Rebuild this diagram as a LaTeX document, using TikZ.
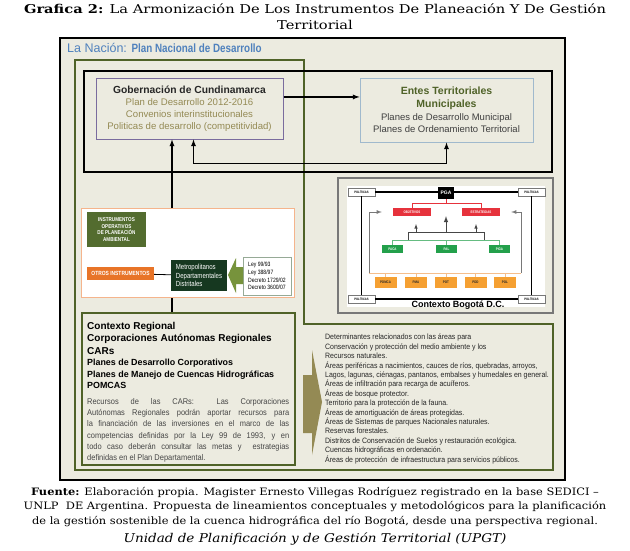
\documentclass[tikz,border=0pt]{standalone}
\usepackage{fontspec}
\setmainfont{Liberation Sans}
\newfontfamily\djserif{DejaVu Serif}[FakeStretch=1.12]
\newfontfamily\djtitle{DejaVu Serif}[FakeStretch=1.2]
\newfontfamily\narrowsans{Liberation Sans}[FakeStretch=0.82]
\newfontfamily\condsans{Liberation Sans}[FakeStretch=0.9]
\usetikzlibrary{shapes,arrows}
\parindent=0pt
\definecolor{fondo}{RGB}{236,235,224}
\definecolor{azulnacion}{RGB}{79,129,189}
\definecolor{oliva}{RGB}{79,98,40}
\definecolor{gobborde}{RGB}{122,108,158}
\definecolor{caqui}{RGB}{148,138,84}
\definecolor{entesborde}{RGB}{160,185,205}
\definecolor{oscuro}{RGB}{38,38,38}
\definecolor{grisent}{RGB}{64,64,64}
\definecolor{insverde}{RGB}{83,108,47}
\definecolor{otrosnar}{RGB}{232,116,40}
\definecolor{metroverde}{RGB}{22,56,32}
\definecolor{flechaverde}{RGB}{119,147,60}
\definecolor{leyborde}{RGB}{150,170,150}
\definecolor{panelborde}{RGB}{245,180,140}
\definecolor{rojobox}{RGB}{230,50,60}
\definecolor{verdebox}{RGB}{35,160,75}
\definecolor{naranjabox}{RGB}{245,160,50}
\definecolor{lineanaranja}{RGB}{245,190,140}
\definecolor{grisborde}{RGB}{120,120,120}
\definecolor{gristexto}{RGB}{70,70,70}
\newcommand{\fsz}[2]{\fontsize{#1}{#2}\selectfont}
\tikzset{
	titulo/.style    = {font=\djtitle\fsz{12.2}{16}, align=center, inner sep=0pt},
	pie/.style       = {font=\djserif\fsz{10.2}{14.5}, align=center, inner sep=0pt},
	marco/.style     = {draw=black, line width=2.4pt, fill=fondo},
	lineaverde/.style = {draw=oliva, line width=1.4pt},
	lineanegra/.style = {draw=black, line width=1.4pt},
	gobbox/.style    = {draw=gobborde, line width=1pt, fill=fondo, minimum width=187pt,
		minimum height=61pt, inner sep=0pt, align=center, text=caqui, font=\fsz{9.6}{12}},
	entesbox/.style  = {draw=entesborde, line width=1pt, fill=fondo, minimum width=173pt,
		minimum height=64pt, inner sep=0pt, align=center, text=grisent, font=\fsz{9.5}{12.7}},
	panelbox/.style  = {draw=panelborde, line width=0.8pt, fill=white, minimum width=213pt,
		minimum height=89pt, inner sep=0pt},
	insbox/.style    = {fill=insverde, text=white, minimum width=59pt, minimum height=35pt,
		inner sep=0pt, align=center, font=\narrowsans\bfseries\fsz{5.6}{6.8}},
	otrosbox/.style  = {fill=otrosnar, text=white, minimum width=67pt, minimum height=13pt,
		inner sep=0pt, font=\narrowsans\bfseries\fsz{6}{7}},
	metrobox/.style  = {fill=metroverde, text=white, minimum width=56pt, minimum height=31pt,
		inner sep=0pt, align=left, font=\narrowsans\fsz{7.4}{8.6}},
	leybox/.style    = {draw=leyborde, line width=0.8pt, fill=white, minimum width=48pt,
		minimum height=38pt, inner sep=0pt, align=left, font=\narrowsans\fsz{6.2}{7.6}},
	polbox/.style    = {draw=grisborde, line width=0.5pt, fill=white, minimum width=27pt,
		minimum height=8pt, inner sep=0pt, font=\narrowsans\bfseries\fsz{3.3}{4}},
	pgabox/.style    = {fill=black, text=white, minimum width=16pt, minimum height=12pt,
		inner sep=0pt, font=\bfseries\fsz{5}{6}},
	rojobx/.style    = {fill=rojobox, text=white, minimum width=38pt, minimum height=8pt,
		inner sep=0pt, font=\narrowsans\bfseries\fsz{3.6}{4}},
	verdebx/.style   = {fill=verdebox, text=white, minimum width=21pt, minimum height=8pt,
		inner sep=0pt, font=\narrowsans\bfseries\fsz{3.6}{4}},
	naranjabx/.style = {fill=naranjabox, text=oscuro, minimum width=22pt, minimum height=11pt,
		inner sep=0pt, font=\narrowsans\bfseries\fsz{3.6}{4}},
	crbox/.style     = {draw=oliva, line width=1.2pt, fill=fondo, minimum width=213pt,
		minimum height=152pt, inner sep=0pt},
	crtexto/.style   = {anchor=north west, text width=202pt, align=justify, inner sep=0pt},
	dettexto/.style  = {anchor=north west, align=left, inner sep=0pt, text=oscuro,
		font=\condsans\fsz{7.75}{9.4}}
}

\begin{document}
\begin{tikzpicture}[x=1pt, y=-1pt, >=latex]
	\useasboundingbox (0,0) rectangle (630,550);
	
	% titulo
	\draw node at (315,17) [titulo] (tit) {{\bfseries Grafica 2:} La Armonización De Los Instrumentos De Planeación Y De Gestión\\ Territorial};
	
	% marcos
	\draw[marco] (60,38) rectangle (565,480);
	\draw[lineaverde] (75,60) -- (304,60) -- (304,324) -- (553,324) -- (553,470) -- (75,470) -- cycle;
	\draw[lineanegra] (84,71) rectangle (552,172);
	\draw node at (67,48) [anchor=west, text=azulnacion, inner sep=0pt] (nacion)
	{\fsz{12.5}{14}La Nación: {\narrowsans\bfseries\fsz{12}{14}Plan Nacional de Desarrollo}};
	
	% nivel departamental y municipal
	\draw
	node at (189.5,108.5) [gobbox] (gob) {{\color{oscuro}\bfseries\fsz{10.3}{12}Gobernación de Cundinamarca}\\
		Plan de Desarrollo 2012-2016\\ Convenios interinstitucionales\\ Politicas de desarrollo (competitividad)}
	node at (446.5,110) [entesbox] (entes) {{\color{oliva}\bfseries\fsz{10.5}{12}Entes Territoriales}\\
		{\color{oliva}\bfseries\fsz{10.5}{12}Municipales}\\ Planes de Desarrollo Municipal\\ Planes de Ordenamiento Territorial};
	
	\draw[->, line width=1.3pt] (gob.7) -- (gob.7 -| entes.west);
	\draw[<->, line width=1.3pt] ([xshift=4pt]gob.south) -- ++(0,24) -| (entes.south);
	
	% contexto regional
	\draw node at (188.5,389) [crbox] (cr) {};
	\draw node at (87,322) [crtexto] (crt) {%
		\fsz{10}{12.5}\bfseries Contexto Regional\par Corporaciones Autónomas Regionales\par CARs\par
		\fsz{8.9}{11.3}Planes de Desarrollo Corporativos\par Planes de Manejo de Cuencas Hidrográficas\par POMCAS\par
		\vspace{4.5pt}\mdseries\color{gristexto}\condsans\fsz{8.3}{11.3}Recursos de las CARs: Las Corporaciones\linebreak
		Autónomas Regionales podrán aportar recursos para\linebreak
		la financiación de las inversiones en el marco de las\linebreak
		competencias definidas por la Ley 99 de 1993, y en\linebreak
		todo caso deberán consultar las metas y\ \ estrategias\linebreak
		definidas en el Plan Departamental.\par};
	
	\coordinate (vx) at (172,0);
	\draw[->, line width=1.3pt] (cr.north -| vx) -- (gob.south -| vx);
	
	% instrumentos operativos
	\draw
	node at (187.5,252.5) [panelbox] (panel) {}
	node at (116.5,229.5) [insbox] (ins) {INSTRUMENTOS\\ OPERATIVOS\\ DE PLANEACIÓN\\ AMBIENTAL}
	node at (120.5,273.5) [otrosbox] (otros) {OTROS INSTRUMENTOS}
	node at (199,275.5) [metrobox] (metro) {Metropolitanos\\ Departamentales\\ Distritales}
	node at (267,276) [leybox] (leyes) {Ley 99/93\\ Ley 388/97\\ Decreto 1729/02\\ Decreto 3600/07};
	\draw[line width=0.8pt] (otros) -- (metro);
	\fill[flechaverde] (228,275) -- (236,258) -- (236,267) -- (243,267) -- (243,284) -- (236,284) -- (236,293) -- cycle;
	
	% contexto Bogota
	\draw[draw=grisborde, line width=1.2pt, fill=fondo] (338,178) rectangle (553,313);
	\fill[white] (347,186) rectangle (545,307);
	\draw
	node at (361.5,192) [polbox] (pl1) {POLÍTICAS}
	node at (531.5,192) [polbox] (pl2) {POLÍTICAS}
	node at (361.5,299) [polbox] (pl3) {POLÍTICAS}
	node at (531.5,299) [polbox] (pl4) {POLÍTICAS};
	\draw[lineanegra] (pl1) -- (pl2);
	\draw[lineanegra] (pl1) -- (pl3);
	\draw[lineanegra] (pl3) -- (pl4);
	\draw[lineanegra] (pl2) -- (pl4);
	\draw
	node at (446,193) [pgabox] (pga) {PGA}
	node at (412,212) [rojobx] (obj) {OBJETIVOS}
	node at (481,212) [rojobx] (est) {ESTRATEGIAS}
	node at (392.5,249) [verdebx] (paca) {PACA}
	node at (446.5,249) [verdebx] (pal) {PAL}
	node at (499.5,249) [verdebx] (piga) {PIGA}
	node at (385.5,282.5) [naranjabx] (pomca) {POMCA}
	node at (416,282.5) [naranjabx] (pma) {PMA}
	node at (446,282.5) [naranjabx] (pot) {POT}
	node at (475.5,282.5) [naranjabx] (pdd) {PDD}
	node at (505,282.5) [naranjabx] (pol) {POL};
	
	\draw[rojobox, line width=0.7pt] (pga.south) -- ++(0,5);
	\draw[rojobox, line width=0.7pt] (obj.north) -- ++(0,-4) -| (est.north);
	\draw[verdebox!70, line width=0.8pt] (paca.north) -- ++(0,-4) -| (piga.north);
	\draw[verdebox!70, line width=0.8pt] (pal.north) -- ++(0,-4);
	\coordinate (b1) at (408,240);
	\coordinate (b2) at (484,240);
	\coordinate (bm) at (446,232);
	\coordinate (ba) at (416,232);
	\coordinate (bb) at (476,232);
	\draw[gristexto, line width=1pt] (b1) -- ++(0,-8) -| (b2);
	\draw[gristexto, line width=1pt, ->] (bm) -- (bm |- obj.south);
	\draw[gristexto, line width=0.6pt, ->] (ba) -- ++(0,-8);
	\draw[gristexto, line width=0.6pt, ->] (bb) -- ++(0,-8);
	\coordinate (oi) at (369,273);
	\coordinate (od) at (521,273);
	\draw[lineanaranja, line width=0.8pt] (oi) -- (od);
	\foreach \n in {pomca,pma,pot,pdd,pol}
	\draw[lineanaranja, line width=0.8pt] (\n.north) -- (\n.north |- oi);
	\draw[grisborde, line width=0.8pt, ->] (oi) |- ([xshift=-11pt]obj.west);
	\draw[grisborde, line width=0.8pt, ->] (od) |- ([xshift=11pt]est.east);
	\draw node at (458,305) [font=\bfseries\fsz{9}{10}, inner sep=0pt] (bogtxt) {Contexto Bogotá D.C.};
	
	% determinantes
	\fill[caqui] (303,375) -- (312,375) -- (312,350) -- (322,402) -- (312,455) -- (312,433) -- (303,433) -- cycle;
	\draw node at (325,334) [dettexto] (det) {Determinantes relacionados con las áreas para\\
		Conservación y protección del medio ambiente y los\\
		Recursos naturales.\\
		Áreas periféricas a nacimientos, cauces de ríos, quebradas, arroyos,\\
		Lagos, lagunas, ciénagas, pantanos, embalses y humedales en general.\\
		Áreas de infiltración para recarga de acuíferos.\\
		Áreas de bosque protector.\\
		Territorio para la protección de la fauna.\\
		Áreas de amortiguación de áreas protegidas.\\
		Áreas de Sistemas de parques Nacionales naturales.\\
		Reservas forestales.\\
		Distritos de Conservación de Suelos y restauración ecológica.\\
		Cuencas hidrográficas en ordenación.\\
		Áreas de protección\ \ de infraestructura para servicios públicos.};
	
	% fuente
	\draw node at (315,487) [pie, anchor=north] (fuente) {{\bfseries Fuente:} Elaboración propia. Magister Ernesto Villegas Rodríguez registrado en la base SEDICI –\\
		UNLP\ \ DE Argentina. Propuesta de lineamientos conceptuales y metodológicos para la planificación\\
		de la gestión sostenible de la cuenca hidrográfica del río Bogotá, desde una perspectiva regional.}
	node at (315,539) [pie, font=\djserif\itshape\fsz{12.1}{14}] (upgt) {Unidad de Planificación y de Gestión Territorial (UPGT)};
\end{tikzpicture}
\end{document}
